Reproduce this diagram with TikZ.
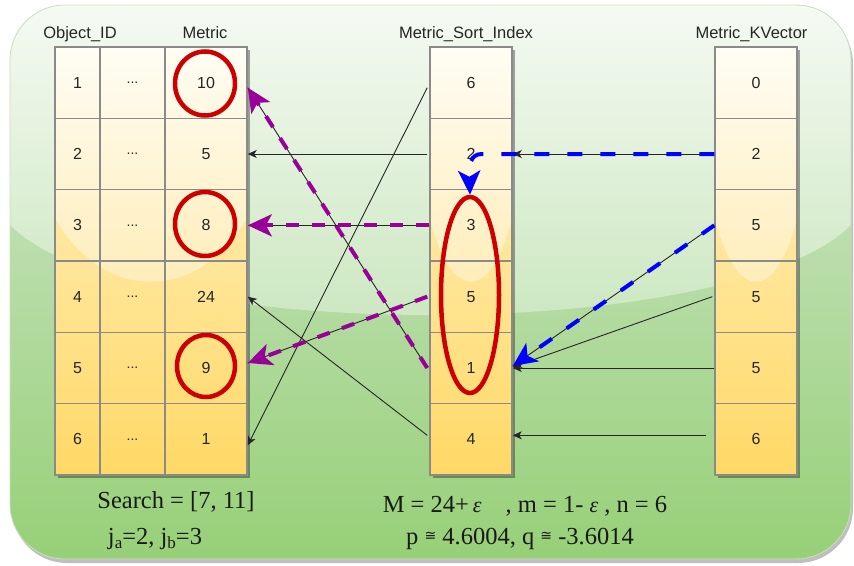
\documentclass[tikz,border=0pt]{standalone}
\usepackage{fontspec}
\setmainfont{Liberation Serif}
\newfontfamily\arialf{Liberation Sans}
\newfontfamily\djv{DejaVu Sans}
\usetikzlibrary{arrows.meta,shapes.geometric,calc}
\definecolor{bgtop}{HTML}{D5E8D4}
\definecolor{bgbot}{HTML}{97D077}
\definecolor{glasstop}{HTML}{F5FAF3}
\definecolor{glassbot}{HTML}{C9E6BD}
\definecolor{bgedge}{HTML}{C8DFBC}
\definecolor{celltop}{HTML}{FFF2CC}
\definecolor{cellbot}{HTML}{FFD966}
\definecolor{cglasstop}{HTML}{FFFDF4}
\definecolor{cglassbot}{HTML}{FFECB5}
\definecolor{gridgray}{HTML}{8A8A8A}
\definecolor{ringred}{HTML}{CC0000}
\definecolor{purp}{HTML}{990099}
\definecolor{blu}{HTML}{0000FF}
\tikzset{
  cellnd/.style={draw=gridgray, line width=1.5pt, minimum height=71.333pt, inner sep=0pt,
    font=\arialf\fontsize{16}{18}\selectfont, text=black!85},
  hdr/.style={font=\arialf\fontsize{16.5}{19}\selectfont, inner sep=0pt, text=black!85},
  blk/.style={draw=black!85, line width=0.9pt, -{Stealth[length=9pt,width=8pt,inset=2.5pt]}},
  thinline/.style={draw=black!85, line width=0.9pt},
  purparr/.style={draw=purp, line width=4pt, dash pattern=on 13pt off 13pt,
    -{Stealth[length=24pt,width=22pt,inset=6pt]}},
  bluearr/.style={draw=blu, line width=4pt, dash pattern=on 15pt off 18pt,
    -{Stealth[length=24pt,width=22pt,inset=6pt]}},
  redring/.style={ellipse, draw=ringred, line width=4.5pt, inner sep=0pt},
  btxt/.style={inner sep=0pt, anchor=base, font=\fontsize{24.5}{28}\selectfont, text=black!90}
}
\newcommand\tabbody[2]{%
  \fill[black, opacity=0.35] (#1+3,50) rectangle (#2+3,478);
  \path[top color=celltop, bottom color=cellbot] (#1,47) rectangle (#2,475);
  \path[top color=cglasstop, bottom color=cglassbot] (#1,47) -- (#2,47) -- (#2,218)
    .. controls ({0.75*#2+0.25*#1},303) and ({0.25*#2+0.75*#1},303) .. (#1,218) -- cycle;
}
\newcommand\myeps{{\fontsize{22}{22}\selectfont\itshape ε}}
\newcommand\mycong{\raisebox{4pt}{\djv\fontsize{14}{14}\selectfont ≅}}
\begin{document}
\begin{tikzpicture}[x=1pt,y=-1pt]
\useasboundingbox (0,0) rectangle (854,565);
% background
\fill[black, opacity=0.25, rounded corners=55pt] (12,9) rectangle (853,563);
\path[rounded corners=55pt, top color=bgtop, bottom color=bgbot] (10,5) rectangle (851,559);
\begin{scope}
  \clip[rounded corners=55pt] (10,5) rectangle (851,559);
  \path[top color=glasstop, bottom color=glassbot] (10,5) -- (851,5) -- (851,225)
    .. controls (730,345) and (130,345) .. (10,225) -- cycle;
\end{scope}
\draw[bgedge, line width=0.8pt, rounded corners=55pt] (10,5) rectangle (851,559);
% table bodies
\tabbody{55}{247}
\tabbody{430}{512}
\tabbody{715}{797}
% headers
\node[hdr, anchor=base] (h1) at (80,38) {Object\_ID};
\node[hdr, anchor=base] (h2) at (205,38) {Metric};
\node[hdr, anchor=base] (h3) at (466,38) {Metric\_Sort\_Index};
\node[hdr, anchor=base] (h4) at (751.5,38) {Metric\_KVector};
% cells
\foreach \i in {1,...,6} {
  \node[cellnd, minimum width=45pt] (o\i) at (77.5,{47+71.333*(\i-0.5)}) {\i};
  \node[cellnd, minimum width=65pt] (d\i) at (132.5,{47+71.333*(\i-0.5)}) {\fontsize{14}{15}\selectfont ...};
}
\foreach \i/\v in {1/10,2/5,3/8,4/24,5/9,6/1}
  \node[cellnd, minimum width=82pt] (m\i) at (206,{47+71.333*(\i-0.5)}) {\v};
\foreach \i/\v in {1/6,2/2,3/3,4/5,5/1,6/4}
  \node[cellnd, minimum width=82pt] (s\i) at (471,{47+71.333*(\i-0.5)}) {\v};
\foreach \i/\v in {1/0,2/2,3/5,4/5,5/5,6/6}
  \node[cellnd, minimum width=82pt] (k\i) at (756,{47+71.333*(\i-0.5)}) {\v};
% black connectors
\draw[blk] ([xshift=-2pt,yshift=-5pt]s1.west) -- ([yshift=-6pt]m6.east);
\draw[blk] ([xshift=-2pt]s2.west) -- (m2.east);
\draw[blk] ([xshift=-2pt,yshift=4pt]s6.west) -- (m4.east);
\draw[blk] (k2.west) -- (s2.east);
\draw[blk] ([xshift=-2pt]k4.west) -- ([yshift=1pt]s5.east);
\draw[blk] (k5.west) -- (s5.east);
\draw[blk] ([xshift=-8pt,yshift=4pt]k6.west) -- ([yshift=4pt]s6.east);
% purple dashed connectors (with thin black line beneath)
\draw[thinline] ([xshift=-2pt]s5.west) -- ([yshift=-5pt]m1.east);
\draw[purparr] ([xshift=-2pt]s5.west) -- ([yshift=-5pt]m1.east);
\draw[thinline] (s3.west) -- (m3.east);
\draw[purparr] (s3.west) -- (m3.east);
\draw[thinline] ([xshift=-2pt]s4.west) -- ([yshift=5pt]m5.east);
\draw[purparr] ([xshift=-2pt]s4.west) -- ([yshift=5pt]m5.east);
% blue dashed connector k3 -> s5
\draw[thinline] (k3.west) -- ([yshift=2pt]s5.east);
\draw[bluearr] (k3.west) -- ([yshift=2pt]s5.east);
% red rings
\node[redring, minimum width=60pt, minimum height=64pt] (c10) at (205,83.5) {};
\node[redring, minimum width=60pt, minimum height=64pt] (c8) at (205,224) {};
\node[redring, minimum width=58pt, minimum height=62pt] (c9) at (206,366) {};
\node[redring, minimum width=58pt, minimum height=196pt] (sel) at (470,295) {};
% blue dashed curve k2 -> ellipse
\draw[bluearr] (k2.west) -- (482,154) .. controls (470,154) and (469,165) .. (sel.north);
% bottom texts
\node[btxt] (search) at (176,508) {Search = [7, 11]};
\node[btxt] (jab) at (155,544) {j\raisebox{-4pt}{\fontsize{17}{17}\selectfont a}=2, j\raisebox{-4pt}{\fontsize{17}{17}\selectfont b}=3};
\node[btxt] (mline) at (525,512) {M = 24+\hspace{4pt}\myeps\hspace{24pt}, m = 1- \myeps\ , n = 6};
\node[btxt] (pline) at (520,544) {p \mycong\ 4.6004, q \mycong\ -3.6014};
\end{tikzpicture}
\end{document}
